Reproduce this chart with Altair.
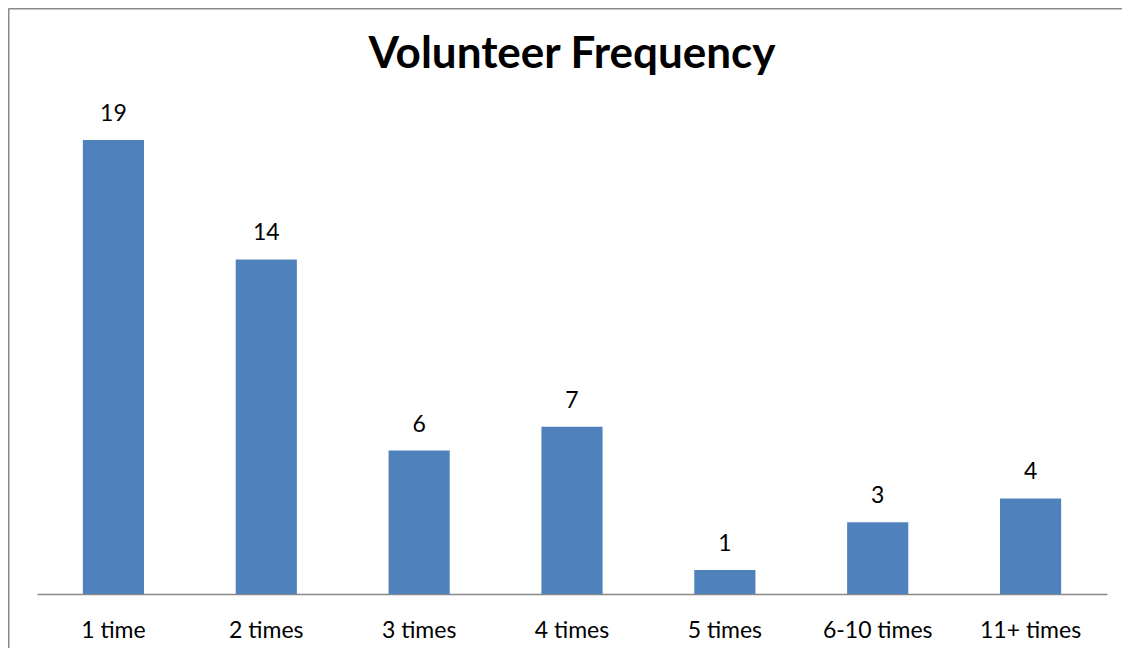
import altair as alt
import pandas as pd

categories = ["1 time", "2 times", "3 times", "4 times", "5 times", "6-10 times", "11+ times"]
counts = [19, 14, 6, 7, 1, 3, 4]

df = pd.DataFrame({"category": categories, "count": counts})

FONT = "Lato"
BAR = "#4F81BD"
GRAY = "#898989"

x_enc = alt.X(
    "category:N",
    sort=categories,
    scale=alt.Scale(paddingInner=0.6, paddingOuter=0.3),
    axis=alt.Axis(
        title=None,
        ticks=False,
        labelAngle=0,
        labelFont=FONT,
        labelFontSize=23,
        labelColor="#000000",
        labelBaseline="alphabetic",
        labelPadding=43,
        domainColor=GRAY,
        domainWidth=1.5,
    ),
)
y_enc = alt.Y("count:Q", scale=alt.Scale(domain=[0, 20]), axis=None)

base = alt.Chart(df)

bars = base.mark_bar(color=BAR).encode(x=x_enc, y=y_enc)

labels = base.mark_text(
    font=FONT, fontSize=23, color="#000000", baseline="alphabetic", dy=-19
).encode(x=alt.X("category:N", sort=categories), y="count:Q", text="count:Q")

border = pd.DataFrame({"k": [0]})
left_line = alt.Chart(border).mark_rule(color=GRAY, strokeWidth=2).encode(
    x=alt.value(-28.5), y=alt.value(-107.5), y2=alt.value(540)
)
top_line = alt.Chart(border).mark_rule(color=GRAY, strokeWidth=2).encode(
    x=alt.value(-28.5), x2=alt.value(1090), y=alt.value(-107.5)
)

chart = (
    alt.layer(left_line, top_line, bars, labels)
    .properties(
        width=1070,
        height=478,
        autosize=alt.AutoSizeParams(type="none"),
        padding={"left": 29, "top": 108, "right": 15, "bottom": 54},
        title=alt.TitleParams(
            "Volunteer Frequency",
            font=FONT,
            fontSize=44,
            fontWeight="bold",
            color="#000000",
            anchor="middle",
            frame="group",
            baseline="alphabetic",
            offset=-104,
        ),
    )
    .configure_view(stroke=None)
)

chart.save("out.html", embed_options={"renderer": "svg", "actions": False})
